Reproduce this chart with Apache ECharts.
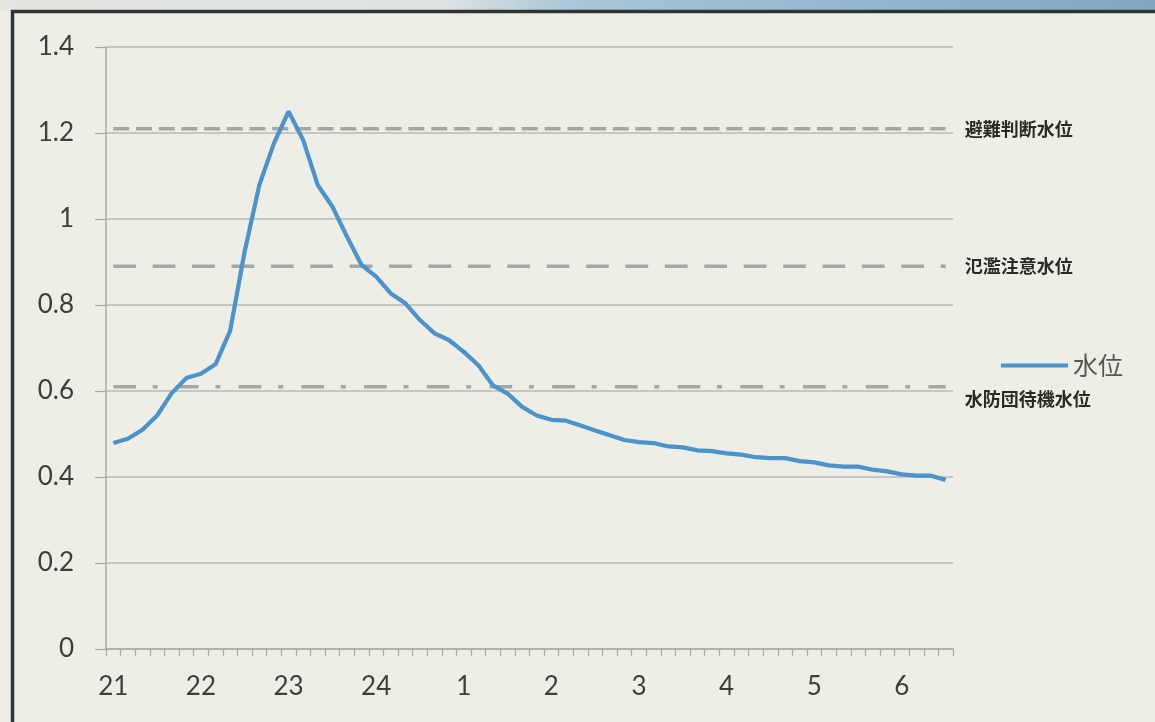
<!DOCTYPE html>
<html>
<head>
<meta charset="utf-8">
<script src="https://cdn.jsdelivr.net/npm/echarts@6/dist/echarts.min.js"></script>
<style>
  html, body { margin: 0; padding: 0; background: #eeeee7; }
  #chart { width: 1155px; height: 722px; }
</style>
</head>
<body>
<div id="chart"></div>
<script>
// 10-minute categories from 21:00 to 6:30
const categories = [
  '21:00','21:10','21:20','21:30','21:40','21:50',
  '22:00','22:10','22:20','22:30','22:40','22:50',
  '23:00','23:10','23:20','23:30','23:40','23:50',
  '24:00','24:10','24:20','24:30','24:40','24:50',
  '1:00','1:10','1:20','1:30','1:40','1:50',
  '2:00','2:10','2:20','2:30','2:40','2:50',
  '3:00','3:10','3:20','3:30','3:40','3:50',
  '4:00','4:10','4:20','4:30','4:40','4:50',
  '5:00','5:10','5:20','5:30','5:40','5:50',
  '6:00','6:10','6:20','6:30'
];
const waterLevel = [
  0.479, 0.489, 0.510, 0.543, 0.595, 0.630,
  0.640, 0.662, 0.740, 0.925, 1.079, 1.176,
  1.250, 1.184, 1.079, 1.029, 0.959, 0.893,
  0.866, 0.827, 0.804, 0.765, 0.734, 0.718,
  0.691, 0.660, 0.613, 0.594, 0.563, 0.543,
  0.533, 0.531, 0.520, 0.508, 0.497, 0.486,
  0.481, 0.479, 0.471, 0.469, 0.462, 0.460,
  0.455, 0.452, 0.446, 0.444, 0.444, 0.437,
  0.434, 0.427, 0.424, 0.424, 0.417, 0.413,
  0.406, 0.403, 0.403, 0.393
];
const seriesName = '水位';
const thresholdNames = ['避難判断水位', '氾濫注意水位', '水防団待機水位'];
const thresholdValues = [1.21, 0.89, 0.61];
const yTicks = [0, 0.2, 0.4, 0.6, 0.8, 1, 1.2, 1.4];

const dashTypes = [[16, 6.7], [22.7, 16.7], [22.7, 16.7, 5, 18.3]];
const labelOffsets = [[11, 0], [11, 0], [11, 12]];

const chart = echarts.init(document.getElementById('chart'), null, { renderer: 'canvas' });

const thresholdSeries = thresholdNames.map((name, k) => ({
  name: name,
  type: 'line',
  data: categories.map(() => thresholdValues[k]),
  symbol: 'none',
  silent: true,
  z: 1,
  lineStyle: { color: '#a6a6a6', width: 3.5, type: dashTypes[k] },
  endLabel: {
    show: true,
    formatter: '{a}',
    offset: labelOffsets[k],
    fontFamily: 'Noto Sans CJK JP',
    fontSize: 18,
    fontWeight: 'bold',
    color: '#2a2a2a'
  }
}));

chart.setOption({
  backgroundColor: '#eeeee7',
  animation: false,
  textStyle: { fontFamily: 'Lato' },
  grid: { left: 106, right: 202, top: 47, bottom: 73, containLabel: false },
  legend: {
    data: [seriesName],
    left: 996,
    top: 348,
    icon: 'rect',
    itemWidth: 67,
    itemHeight: 4,
    textStyle: { fontFamily: 'Noto Sans CJK JP', fontSize: 25, color: '#555555', padding: [0, 0, 0, 0] }
  },
  xAxis: {
    type: 'category',
    data: categories,
    boundaryGap: true,
    axisLine: { show: true, lineStyle: { color: '#aaaaaa', width: 1.5 } },
    axisTick: { show: true, interval: 0, length: 7, lineStyle: { color: '#aaaaaa', width: 1.2 } },
    axisLabel: {
      interval: 5,
      margin: 25,
      fontFamily: 'Lato',
      fontSize: 26,
      color: '#3d3d3d',
      formatter: v => v.split(':')[0]
    },
    splitLine: { show: false }
  },
  yAxis: {
    type: 'value',
    min: yTicks[0],
    max: yTicks[yTicks.length - 1],
    interval: 0.2,
    axisLine: { show: true, lineStyle: { color: '#aaaaaa', width: 1.5 } },
    axisTick: { show: true, length: 11, lineStyle: { color: '#aaaaaa', width: 1.2 } },
    axisLabel: {
      margin: 32,
      fontFamily: 'Lato',
      fontSize: 26,
      color: '#3d3d3d',
      formatter: v => String(Math.round(v * 10) / 10)
    },
    splitLine: { show: true, lineStyle: { color: '#b8b8b8', width: 1.5 } }
  },
  graphic: [
    {
      type: 'rect',
      shape: { x: 0, y: 0, width: 1155, height: 11 },
      style: {
        fill: new echarts.graphic.LinearGradient(0, 0, 1, 0, [
          { offset: 0, color: '#e4e6e1' },
          { offset: 0.38, color: '#dfe4e3' },
          { offset: 0.5, color: '#a9c6d8' },
          { offset: 1, color: '#7fa7c4' }
        ])
      },
      silent: true
    },
    {
      type: 'rect',
      shape: { x: 12.5, y: 11.5, width: 2000, height: 2000 },
      style: { fill: 'none', stroke: '#2d3634', lineWidth: 3.5 },
      silent: true
    }
  ],
  series: [
    ...thresholdSeries,
    {
      name: seriesName,
      type: 'line',
      data: waterLevel,
      symbol: 'none',
      z: 3,
      lineStyle: { color: '#4a93cb', width: 4.2 },
      itemStyle: { color: '#4a93cb' }
    }
  ]
});
</script>
</body>
</html>
